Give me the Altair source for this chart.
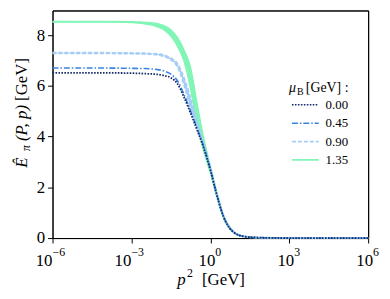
import altair as alt
import pandas as pd

# ---------------- data ----------------
p2 = [1e-6, 1e-5, 1e-4, 1e-3, 3.16e-3, 1e-2, 1.78e-2, 3.16e-2, 5.62e-2, 0.1,
      0.178, 0.316, 0.562, 1.0, 1.78, 3.16, 5.62, 10.0, 17.8, 31.6,
      100.0, 316.0, 1e3, 1e4, 1e5, 1e6]

e_000 = [6.51, 6.51, 6.51, 6.50, 6.48, 6.45, 6.40, 6.32, 6.08, 5.55,
         4.92, 4.25, 3.55, 2.68, 1.68, 0.84, 0.37, 0.15, 0.07, 0.035,
         0.012, 0.004, 0.0, 0.0, 0.0, 0.0]
e_045 = [6.70, 6.70, 6.70, 6.69, 6.68, 6.64, 6.58, 6.46, 6.20, 5.66,
         5.00, 4.32, 3.60, 2.72, 1.70, 0.85, 0.375, 0.152, 0.07, 0.035,
         0.012, 0.004, 0.0, 0.0, 0.0, 0.0]
e_090_lo = [7.28, 7.28, 7.28, 7.27, 7.26, 7.22, 7.16, 7.03, 6.76, 6.05,
            5.15, 4.38, 3.62, 2.74, 1.72, 0.86, 0.38, 0.155, 0.07, 0.035,
            0.012, 0.004, 0.0, 0.0, 0.0, 0.0]
e_090_hi = [7.30, 7.30, 7.30, 7.29, 7.28, 7.25, 7.20, 7.09, 6.86, 6.30,
            5.50, 4.55, 3.70, 2.79, 1.75, 0.88, 0.40, 0.16, 0.075, 0.037,
            0.013, 0.004, 0.0, 0.0, 0.0, 0.0]
e_135_lo = [8.51, 8.51, 8.51, 8.49, 8.44, 8.32, 8.19, 7.95, 7.55, 6.95,
            5.85, 4.45, 3.40, 2.55, 1.58, 0.78, 0.34, 0.13, 0.06, 0.03,
            0.01, 0.003, 0.0, 0.0, 0.0, 0.0]
e_135_hi = [8.54, 8.54, 8.54, 8.53, 8.51, 8.45, 8.37, 8.21, 7.91, 7.42,
            6.72, 5.30, 3.95, 2.85, 1.80, 0.92, 0.42, 0.18, 0.08, 0.04,
            0.015, 0.005, 0.0, 0.0, 0.0, 0.0]

mu_labels = ["0.00", "0.45", "0.90", "1.35"]
x_ticks = [1e-6, 1e-3, 1.0, 1e3, 1e6]
x_tick_exps = ["\u22126", "\u22123", "0", "3", "6"]
y_ticks = [0, 2, 4, 6, 8]
x_lim = [1e-6, 1e6]
y_lim = [0.0, 8.97]

# ---------------- styles ----------------
colors = ["#142c66", "#3b82e0", "#a6cdf8", "#80f5b5"]
dashes = [[1.6, 1.4], [6, 2, 1.5, 2], [4, 2], [1, 0]]
FONT = "Liberation Serif, DejaVu Serif, serif"
legend_rows_y = [95.3, 113.9, 132.5, 151.0]

rows = []
series = {
    "0.00": (e_000, e_000),
    "0.45": (e_045, e_045),
    "0.90": (e_090_lo, e_090_hi),
    "1.35": (e_135_lo, e_135_hi),
}
for mu, (lo, hi) in series.items():
    for x, a, b in zip(p2, lo, hi):
        rows.append({"mu": mu, "p2": x, "lo": a, "hi": b})
df = pd.DataFrame(rows)

W, H = 319, 230

xscale = alt.Scale(type="log", domain=x_lim, nice=False)
yscale = alt.Scale(domain=y_lim, nice=False, zero=False)
xaxis = alt.Axis(values=x_ticks, labels=False, title=None, grid=False,
                 tickSize=5)
yaxis = alt.Axis(values=y_ticks, title=None, grid=False, tickSize=5,
                 labelFont=FONT, labelFontSize=17, labelColor="black",
                 labelPadding=3, format="d")
top_axis = alt.Axis(orient="top", labels=False, ticks=False, grid=False,
                    title=None, domain=True)
right_axis = alt.Axis(orient="right", labels=False, ticks=False, grid=False,
                      title=None, domain=True)
color_scale = alt.Scale(domain=mu_labels, range=colors)
dash_scale = alt.Scale(domain=mu_labels, range=dashes)


def X(ax=None):
    return alt.X("p2:Q", scale=xscale, axis=ax)


def Y(f, ax=None):
    return alt.Y(f"{f}:Q", scale=yscale, axis=ax)


col = alt.Color("mu:N", scale=color_scale, legend=None)
dash = alt.StrokeDash("mu:N", scale=dash_scale, legend=None)

base = alt.Chart(df)


def band(mu, axes=False):
    return base.transform_filter(alt.datum.mu == mu).mark_area(
        interpolate="monotone", opacity=1
    ).encode(x=X(xaxis if axes else None), y=Y("lo", yaxis if axes else None),
             y2=alt.Y2("hi:Q"), color=col)


def edge(mu, field, width):
    return base.transform_filter(alt.datum.mu == mu).mark_line(
        interpolate="monotone", strokeWidth=width
    ).encode(x=X(), y=Y(field), color=col, strokeDash=dash)


# invisible layer carrying the top and right frame lines
frame_df = pd.DataFrame({"p2": x_lim, "lo": y_lim})
frame = alt.Chart(frame_df).mark_point(opacity=0).encode(
    x=X(top_axis), y=Y("lo", right_axis))

layers = [
    band("1.35", axes=True), frame,
    edge("1.35", "lo", 1.2), edge("1.35", "hi", 1.2),
    band("0.90"), edge("0.90", "lo", 2.0), edge("0.90", "hi", 2.0),
    edge("0.45", "lo", 1.6),
    edge("0.00", "lo", 1.8),
]

# custom x tick labels 10^n
tick_df = pd.DataFrame({"p2": x_ticks, "base": ["10"] * 5, "exp": x_tick_exps,
                        "neg": [1, 1, 0, 0, 0]})
tchart = alt.Chart(tick_df)
for negv, off in [(1, 0), (0, 5)]:
    layers.append(tchart.transform_filter(alt.datum.neg == negv).mark_text(
        align="right", baseline="alphabetic", font=FONT, fontSize=17,
        color="black", dx=off).encode(x=X(), y=alt.value(258), text="base:N"))
    layers.append(tchart.transform_filter(alt.datum.neg == negv).mark_text(
        align="left", baseline="alphabetic", font=FONT, fontSize=12,
        color="black", dx=off).encode(x=X(), y=alt.value(248), text="exp:N"))

one = pd.DataFrame({"k": [0]})


def label(text, x, y, size, italic=False, angle=0, align="left"):
    kw = dict(text=text, font=FONT, fontSize=size, color="black",
              align=align, baseline="alphabetic")
    if italic:
        kw["fontStyle"] = "italic"
    if angle:
        kw["angle"] = angle
    return alt.Chart(one).mark_text(**kw).encode(x=alt.value(x), y=alt.value(y))


# legend, one row per series
leg_df = pd.DataFrame({"mu": mu_labels})
for mu, ry in zip(mu_labels, legend_rows_y):
    sub = alt.Chart(leg_df).transform_filter(alt.datum.mu == mu)
    layers.append(sub.mark_rule(strokeWidth=1.6).encode(
        x=alt.value(242), x2=alt.value(269), y=alt.value(ry),
        color=col, strokeDash=dash))
    layers.append(sub.mark_text(
        align="left", baseline="middle", font=FONT, fontSize=13, color="black"
    ).encode(x=alt.value(276), y=alt.value(ry), text="mu:N"))

layers += [
    label("\u03bc", 239, 82, 14, italic=True),
    label("B", 247, 85, 10),
    label("[GeV] :", 256, 82, 14),
    # axis titles
    label("p", 126, 277, 17, italic=True),
    label("2", 136, 269, 12),
    label("[GeV]", 151, 277, 17),
    label("\u00ca", -26, 159, 17, italic=True, angle=270),
    label("\u03c0", -23, 142, 12, italic=True, angle=270),
    label("(P, p)", -26, 132, 17, italic=True, angle=270),
    label("[GeV]", -26, 48, 17, angle=270, align="right"),
]

chart = alt.layer(*layers).resolve_axis(
    x="independent", y="independent"
).properties(
    width=W, height=H,
    padding={"left": 45, "top": 1, "right": 14, "bottom": 52},
    autosize=alt.AutoSizeParams(type="none"),
).configure_view(stroke="black", strokeWidth=1).configure_axis(
    domainColor="black", tickColor="black", domainWidth=1, tickWidth=1,
    labelFont=FONT
)

chart.save("out.html", embed_options={"renderer": "svg", "actions": False})
